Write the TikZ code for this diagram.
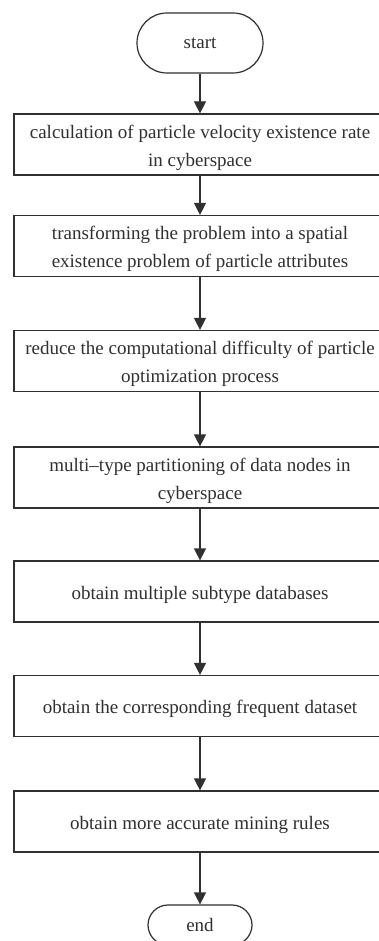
\documentclass[tikz,border=0pt]{standalone}
\usepackage{fontspec}
\setmainfont{Liberation Serif}
\usetikzlibrary{arrows.meta}
\definecolor{ink}{HTML}{303030}
\begin{document}
\begin{tikzpicture}[x=1pt,y=-1pt,
  every node/.style={font=\fontsize{19}{28}\selectfont, text=ink},
  stepbox/.style={draw=ink, line width=1.2pt, minimum width=372pt, minimum height=61pt,
    inner sep=0pt},
  steptext/.style={align=center, inner sep=0pt, yshift=-3pt},
  terminal/.style={draw=ink, line width=1.2pt, inner sep=0pt},
  flow/.style={draw=ink, line width=1.2pt, -{Triangle[length=12pt,width=12pt]}}]
\useasboundingbox (0,0) rectangle (378,941);
\fill[white] (0,0) rectangle (378,941);
% terminals
\node[terminal, minimum width=126pt, minimum height=60pt, rounded corners=30pt] (start) at (200,43) {start};
\node[terminal, minimum width=104pt, minimum height=40pt, rounded corners=20pt] (end) at (200,925) {end};
% process boxes
\node[stepbox] (s1) at (200,144.5) {};
\node[stepbox] (s2) at (200,246) {};
\node[stepbox] (s3) at (200,361) {};
\node[stepbox] (s4) at (200,477.5) {};
\node[stepbox] (s5) at (200,591.5) {};
\node[stepbox] (s6) at (200,706) {};
\node[stepbox] (s7) at (200,821.5) {};
% box texts
\node[steptext] (t1) at (s1) {calculation of particle velocity existence rate\\in cyberspace};
\node[steptext] (t2) at (s2) {transforming the problem into a spatial\\existence problem of particle attributes};
\node[steptext] (t3) at (s3) {reduce the computational difficulty of particle\\optimization process};
\node[steptext] (t4) at (s4) {multi{\textendash}type partitioning of data nodes in\\cyberspace};
\node[steptext] (t5) at (s5) {obtain multiple subtype databases};
\node[steptext] (t6) at (s6) {obtain the corresponding frequent dataset};
\node[steptext] (t7) at (s7) {obtain more accurate mining rules};
% connectors
\draw[flow] (start) -- (s1);
\draw[flow] (s1) -- (s2);
\draw[flow] (s2) -- (s3);
\draw[flow] (s3) -- (s4);
\draw[flow] (s4) -- (s5);
\draw[flow] (s5) -- (s6);
\draw[flow] (s6) -- (s7);
\draw[flow] (s7) -- (end);
\end{tikzpicture}
\end{document}
